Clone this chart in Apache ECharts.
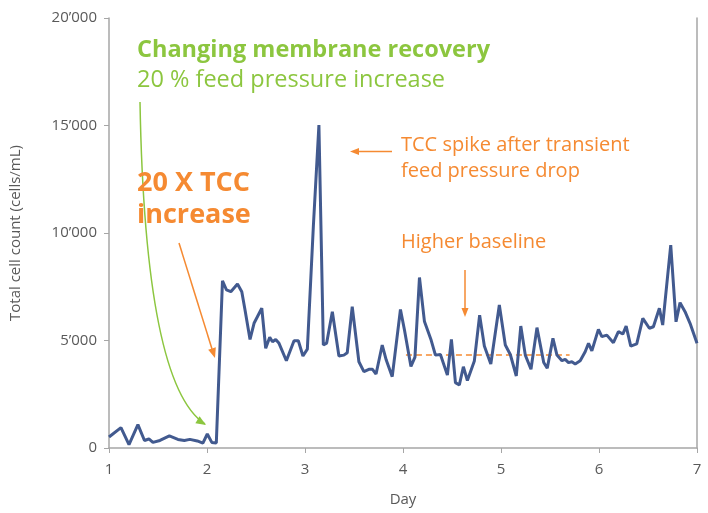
<!DOCTYPE html>
<html>
<head>
<meta charset="utf-8">
<script src="https://cdn.jsdelivr.net/npm/echarts@6/dist/echarts.min.js"></script>
<style>
  html, body { margin: 0; padding: 0; background: #fff; }
  #chart { width: 708px; height: 513px; }
</style>
</head>
<body>
<div id="chart"></div>
<script>
// 天数（x）
const days = [
    1.000, 1.122, 1.204, 1.295, 1.362, 1.407, 1.448, 1.520, 1.616, 1.703,
    1.769, 1.825, 1.901, 1.958, 2.003, 2.049, 2.095, 2.158, 2.199, 2.243,
    2.311, 2.355, 2.388, 2.439, 2.480, 2.559, 2.599, 2.640, 2.668, 2.701,
    2.735, 2.810, 2.888, 2.932, 2.979, 3.024, 3.085, 3.142, 3.187, 3.221,
    3.279, 3.346, 3.397, 3.431, 3.482, 3.550, 3.601, 3.652, 3.689, 3.725,
    3.788, 3.829, 3.890, 3.974, 4.015, 4.081, 4.122, 4.168, 4.219, 4.287,
    4.331, 4.382, 4.453, 4.494, 4.535, 4.575, 4.616, 4.657, 4.728, 4.782,
    4.830, 4.896, 4.983, 5.044, 5.095, 5.156, 5.202, 5.248, 5.306, 5.367,
    5.436, 5.472, 5.530, 5.571, 5.622, 5.655, 5.689, 5.723, 5.757, 5.808,
    5.859, 5.893, 5.927, 5.994, 6.029, 6.080, 6.147, 6.198, 6.243, 6.277,
    6.324, 6.385, 6.447, 6.514, 6.555, 6.616, 6.650, 6.732, 6.786, 6.827,
    6.878, 6.929, 7.000
];
// 总细胞数（cells/mL）
const tcc = [
    510, 950, 160, 1090, 350, 420, 260, 350, 560, 400,
    350, 400, 330, 230, 650, 260, 230, 7780, 7350, 7270,
    7630, 7270, 6420, 5050, 5800, 6500, 4640, 5150, 4940, 5050,
    4870, 4060, 4990, 4990, 4280, 4600, 10290, 15020, 4790, 4880,
    6340, 4280, 4320, 4430, 6570, 4010, 3550, 3660, 3660, 3440,
    4790, 4090, 3320, 6440, 5490, 3790, 4230, 7930, 5880, 5020,
    4320, 4350, 3390, 5050, 3040, 2930, 3780, 3140, 4050, 6180,
    4740, 3910, 6650, 4790, 4350, 3350, 5670, 4320, 3660, 5600,
    3980, 3710, 5100, 4320, 4060, 4120, 3970, 4010, 3910, 4060,
    4480, 4870, 4520, 5520, 5180, 5250, 4900, 5410, 5300, 5670,
    4740, 4840, 6030, 5570, 5640, 6500, 5720, 9440, 5870, 6760,
    6340, 5800, 4870
];
// 较高基线（虚线）
const baselineDays = [4.03, 5.70];
const baselineValue = 4320;
// 坐标轴刻度
const yTicks = [0, 5000, 10000, 15000, 20000];
const xTicks = [1, 2, 3, 4, 5, 6, 7];

const orange = '#f58a32';
const green = '#8cc63f';
const axisGrey = '#a6a6a6';
const labelGrey = '#595959';

function fmtThousands(v) {
    if (v === 0) return '0';
    const s = String(v);
    return s.slice(0, s.length - 3) + '\u2019' + s.slice(s.length - 3);
}

// 箭头三角形
function arrowHead(tipX, tipY, dx, dy, len, half) {
    const n = Math.sqrt(dx * dx + dy * dy);
    const ux = dx / n, uy = dy / n;
    const bx = tipX - ux * len, by = tipY - uy * len;
    return [[tipX, tipY], [bx - uy * half, by + ux * half], [bx + uy * half, by - ux * half]];
}

let chart = echarts.init(document.getElementById('chart'));

let option = {
    animation: false,
    grid: { left: 108, right: 11, top: 18, bottom: 65 },
    xAxis: {
        type: 'value',
        min: xTicks[0],
        max: xTicks[xTicks.length - 1],
        interval: 1,
        name: 'Day',
        nameLocation: 'middle',
        nameGap: 44,
        nameTextStyle: { color: labelGrey, fontSize: 15, fontFamily: 'Open Sans' },
        axisLine: { lineStyle: { color: axisGrey, width: 1.5 } },
        axisTick: { show: true, length: 5, lineStyle: { color: axisGrey } },
        axisLabel: { color: labelGrey, fontSize: 15, fontFamily: 'Open Sans', margin: 14 },
        splitLine: { show: false }
    },
    yAxis: [{
        type: 'value',
        min: yTicks[0],
        max: yTicks[yTicks.length - 1],
        interval: 5000,
        name: 'Total cell count (cells/mL)',
        nameLocation: 'middle',
        nameGap: 86,
        nameRotate: 90,
        nameTextStyle: { color: labelGrey, fontSize: 15, fontFamily: 'Open Sans' },
        axisLine: { show: true, lineStyle: { color: axisGrey, width: 1.5 } },
        axisTick: { show: true, length: 5, lineStyle: { color: axisGrey } },
        axisLabel: { color: labelGrey, fontSize: 15, fontFamily: 'Open Sans', margin: 12, formatter: fmtThousands },
        splitLine: { show: false }
    }, {
        type: 'value',
        position: 'right',
        min: yTicks[0],
        max: yTicks[yTicks.length - 1],
        interval: 5000,
        axisLine: { show: true, lineStyle: { color: axisGrey, width: 1.5 } },
        axisTick: { show: false },
        axisLabel: { show: false },
        splitLine: { show: false }
    }],
    series: [
        {
            type: 'line',
            data: days.map((d, i) => [d, tcc[i]]),
            symbol: 'none',
            lineStyle: { color: '#425a8f', width: 3 },
            z: 3
        },
        {
            type: 'line',
            data: baselineDays.map(d => [d, baselineValue]),
            symbol: 'none',
            lineStyle: { color: orange, width: 1.5, type: [6, 4] },
            z: 2
        }
    ],
    graphic: [
        { type: 'text', left: 137, top: 38, style: { text: 'Changing membrane recovery', fill: green, font: 'bold 23.5px "Open Sans"' } },
        { type: 'text', left: 137, top: 68, style: { text: '20 % feed pressure increase', fill: green, font: '23.5px "Open Sans"' } },
        { type: 'bezierCurve', shape: { x1: 140, y1: 102, x2: 205, y2: 424, cpx1: 145, cpy1: 385 }, style: { stroke: green, lineWidth: 1.5, fill: null } },
        { type: 'polygon', shape: { points: arrowHead(206, 425, 62, 38, 10, 4) }, style: { fill: green } },

        { type: 'text', left: 137, top: 170, style: { text: '20 X TCC', fill: orange, font: 'bold 27px "Open Sans"' } },
        { type: 'text', left: 137, top: 202, style: { text: 'increase', fill: orange, font: 'bold 27px "Open Sans"' } },
        { type: 'line', shape: { x1: 179, y1: 243, x2: 212, y2: 349 }, style: { stroke: orange, lineWidth: 1.5 } },
        { type: 'polygon', shape: { points: arrowHead(215, 358, 36, 115, 10, 4) }, style: { fill: orange } },

        { type: 'text', left: 401, top: 135, style: { text: 'TCC spike after transient', fill: orange, font: '20px "Open Sans"' } },
        { type: 'text', left: 401, top: 161, style: { text: 'feed pressure drop', fill: orange, font: '20px "Open Sans"' } },
        { type: 'line', shape: { x1: 392, y1: 151.5, x2: 358, y2: 151.5 }, style: { stroke: orange, lineWidth: 1.5 } },
        { type: 'polygon', shape: { points: arrowHead(350, 151.5, -1, 0, 9, 3.5) }, style: { fill: orange } },

        { type: 'text', left: 401, top: 232, style: { text: 'Higher baseline', fill: orange, font: '20px "Open Sans"' } },
        { type: 'line', shape: { x1: 465, y1: 270, x2: 465, y2: 308 }, style: { stroke: orange, lineWidth: 1.5 } },
        { type: 'polygon', shape: { points: arrowHead(465, 317, 0, 1, 9, 3.5) }, style: { fill: orange } }
    ]
};

chart.setOption(option);
</script>
</body>
</html>
